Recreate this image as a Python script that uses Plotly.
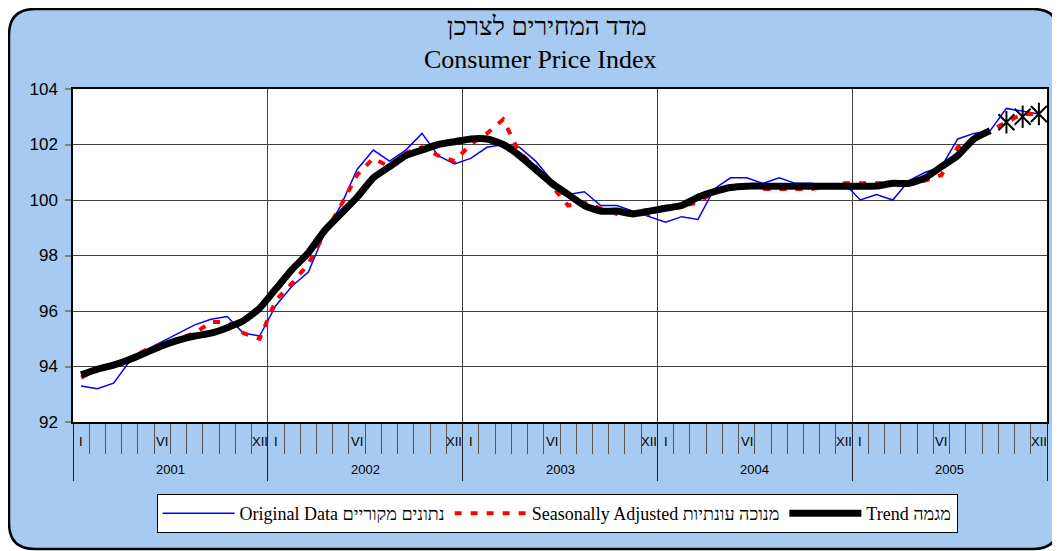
import plotly.graph_objects as go

# ---------------- data ----------------
years = [2001, 2002, 2003, 2004, 2005]
month_tick_labels = {0: "I", 5: "VI", 11: "XII"}

original = [
    93.3, 93.2, 93.4, 94.2, 94.6, 94.9, 95.2, 95.5, 95.7, 95.8, 95.2, 95.1,
    96.2, 96.9, 97.4, 98.8, 99.8, 101.1, 101.8, 101.4, 101.8, 102.4, 101.6, 101.3,
    101.5, 101.9, 102.0, 101.9, 101.4, 100.7, 100.2, 100.3, 99.8, 99.8, 99.6, 99.4,
    99.2, 99.4, 99.3, 100.4, 100.8, 100.8, 100.6, 100.8, 100.6, 100.6, 100.5, 100.6,
    100.0, 100.2, 100.0, 100.7, 101.0, 101.2, 102.2, 102.4, 102.5, 103.3, 103.2, 103.1,
]
seasonal = [
    93.6, 93.9, 94.1, 94.3, 94.6, 94.8, 95.0, 95.2, 95.6, 95.6, 95.2, 95.0,
    96.4, 97.0, 97.7, 98.8, 99.8, 100.9, 101.5, 101.2, 101.7, 101.9, 101.6, 101.4,
    102.0, 102.4, 102.9, 101.7, 101.2, 100.5, 99.8, 99.9, 99.7, 99.5, 99.5, 99.5,
    99.8, 99.8, 99.9, 100.3, 100.5, 100.5, 100.4, 100.4, 100.4, 100.4, 100.5, 100.6,
    100.6, 100.6, 100.6, 100.6, 100.7, 100.9, 101.9, 102.2, 102.5, 102.8, 103.1, 103.1,
]
trend = [
    93.7, 93.9, 94.05, 94.25, 94.5, 94.75, 94.95, 95.1, 95.2, 95.4, 95.65, 96.1,
    96.8, 97.5, 98.1, 98.9, 99.5, 100.1, 100.8, 101.2, 101.6, 101.8, 102.0, 102.1,
    102.2, 102.2, 102.0, 101.6, 101.1, 100.6, 100.2, 99.8, 99.6, 99.6, 99.5, 99.6,
    99.7, 99.8, 100.1, 100.3, 100.45, 100.5, 100.5, 100.5, 100.5, 100.5, 100.5, 100.5,
    100.5, 100.5, 100.6, 100.6, 100.8, 101.2, 101.6, 102.2, 102.5,
]
trend_provisional = [102.8, 103.0, 103.1]

names = ["Original Data נתונים מקוריים",
         "Seasonally Adjusted מנוכה עונתיות",
         "Trend מגמה"]

title_he = "מדד המחירים לצרכן"
title_en = "Consumer Price Index"

# ---------------- geometry (layout only) ----------------
# The page has an 8px body margin, so the figure is placed at (8, 8).
OFF = 8
W, H = 1052, 543
PL, PR, PT, PB = 73, 1047, 89, 422          # plot area in page pixels
L, T = PL - OFF, PT - OFF
R, B = W - (PR - OFF), H - (PB - OFF)
PW, PH = PR - PL, PB - PT


def px_x(p):
    return (p - PL) / PW


def px_y(p):
    return (PB - p) / PH


n = len(original)
x_all = list(range(n))
x_trend = x_all[:len(trend)]
x_prov = x_all[len(trend):len(trend) + len(trend_provisional)]

fig = go.Figure()
fig.add_trace(go.Scatter(x=x_all, y=original, mode="lines", name=names[0],
                         line=dict(color="#0000FF", width=1.5)))
fig.add_trace(go.Scatter(x=x_all, y=seasonal, mode="lines", name=names[1],
                         line=dict(color="#FF0000", width=4, dash="7px,9px")))
fig.add_trace(go.Scatter(x=x_trend, y=trend, mode="lines", name=names[2],
                         line=dict(color="black", width=7, shape="spline", smoothing=0.5)))
for sym in ["x-thin-open", "line-ns-open"]:
    fig.add_trace(go.Scatter(x=x_prov, y=trend_provisional, mode="markers", showlegend=False,
                             marker=dict(symbol=sym, size=16, color="black",
                                         line=dict(color="black", width=2))))

year_bounds = [12 * k - 0.5 for k in range(len(years) + 1)]
month_bounds = [i - 0.5 for i in range(n + 1)]

fig.update_xaxes(range=[-0.5, n - 0.5], tickmode="array", tickvals=year_bounds,
                 ticks="outside", ticklen=57, tickcolor="#222222", tickwidth=1,
                 showticklabels=False, showgrid=True, gridcolor="#404040", gridwidth=1,
                 showline=True, linecolor="black", linewidth=2, mirror=True, zeroline=False,
                 minor=dict(tickmode="array", tickvals=month_bounds, ticks="outside", ticklen=30,
                            tickcolor="#555555", tickwidth=1, showgrid=False))
fig.update_yaxes(range=[92, 104], tickmode="linear", tick0=92, dtick=2,
                 ticks="outside", ticklen=6, tickcolor="#808080", tickwidth=1.5,
                 ticklabelstandoff=4,
                 showgrid=True, gridcolor="#404040", gridwidth=1,
                 showline=True, linecolor="black", linewidth=1.5, mirror=True, zeroline=False,
                 tickfont=dict(family="Liberation Sans, Arial", size=17, color="black"))

annotations = []
for k, yr in enumerate(years):
    for m, lab in month_tick_labels.items():
        annotations.append(dict(x=12 * k + m, xref="x", y=px_y(441), yref="paper",
                                text=lab, showarrow=False, xanchor="center", yanchor="middle",
                                font=dict(family="Liberation Sans, Arial", size=13, color="black")))
    annotations.append(dict(x=12 * k + 5.5, xref="x", y=px_y(469), yref="paper",
                            text=str(yr), showarrow=False, xanchor="center", yanchor="middle",
                            font=dict(family="Liberation Sans, Arial", size=13, color="black")))
annotations.append(dict(x=px_x(547), xref="paper", y=px_y(27), yref="paper", text=title_he,
                        showarrow=False, xanchor="center", yanchor="middle",
                        font=dict(family="Liberation Serif, Times New Roman", size=26, color="black")))
annotations.append(dict(x=px_x(540), xref="paper", y=px_y(59), yref="paper", text=title_en,
                        showarrow=False, xanchor="center", yanchor="middle",
                        font=dict(family="Liberation Serif, Times New Roman", size=26, color="black")))

# rounded light-blue chart area (page pixel coords)
x0, x1, y0, y1, r = 9, 1059, 9, 549, 26
path = (f"M {px_x(x0 + r)} {px_y(y0)} L {px_x(x1 - r)} {px_y(y0)} "
        f"Q {px_x(x1)} {px_y(y0)} {px_x(x1)} {px_y(y0 + r)} "
        f"L {px_x(x1)} {px_y(y1 - r)} Q {px_x(x1)} {px_y(y1)} {px_x(x1 - r)} {px_y(y1)} "
        f"L {px_x(x0 + r)} {px_y(y1)} Q {px_x(x0)} {px_y(y1)} {px_x(x0)} {px_y(y1 - r)} "
        f"L {px_x(x0)} {px_y(y0 + r)} Q {px_x(x0)} {px_y(y0)} {px_x(x0 + r)} {px_y(y0)} Z")
shapes = [
    dict(type="path", path=path, xref="paper", yref="paper", layer="below",
         fillcolor="#A6CAF0", line=dict(color="black", width=2.5)),
    dict(type="rect", x0=0, x1=1, y0=0, y1=1, xref="paper", yref="paper", layer="below",
         fillcolor="white", line=dict(width=0)),
]

fig.update_layout(
    width=W, height=H,
    margin=dict(l=L, r=R, t=T, b=B, pad=0),
    paper_bgcolor="white", plot_bgcolor="rgba(0,0,0,0)",
    annotations=annotations, shapes=shapes,
    showlegend=True,
    legend=dict(orientation="h", x=px_x(557), xanchor="center", y=px_y(494), yanchor="top",
                bgcolor="white", bordercolor="black", borderwidth=1, traceorder="normal",
                itemwidth=72,
                font=dict(family="Liberation Serif, Times New Roman", size=18, color="black")),
)

fig.write_html("out.html")
